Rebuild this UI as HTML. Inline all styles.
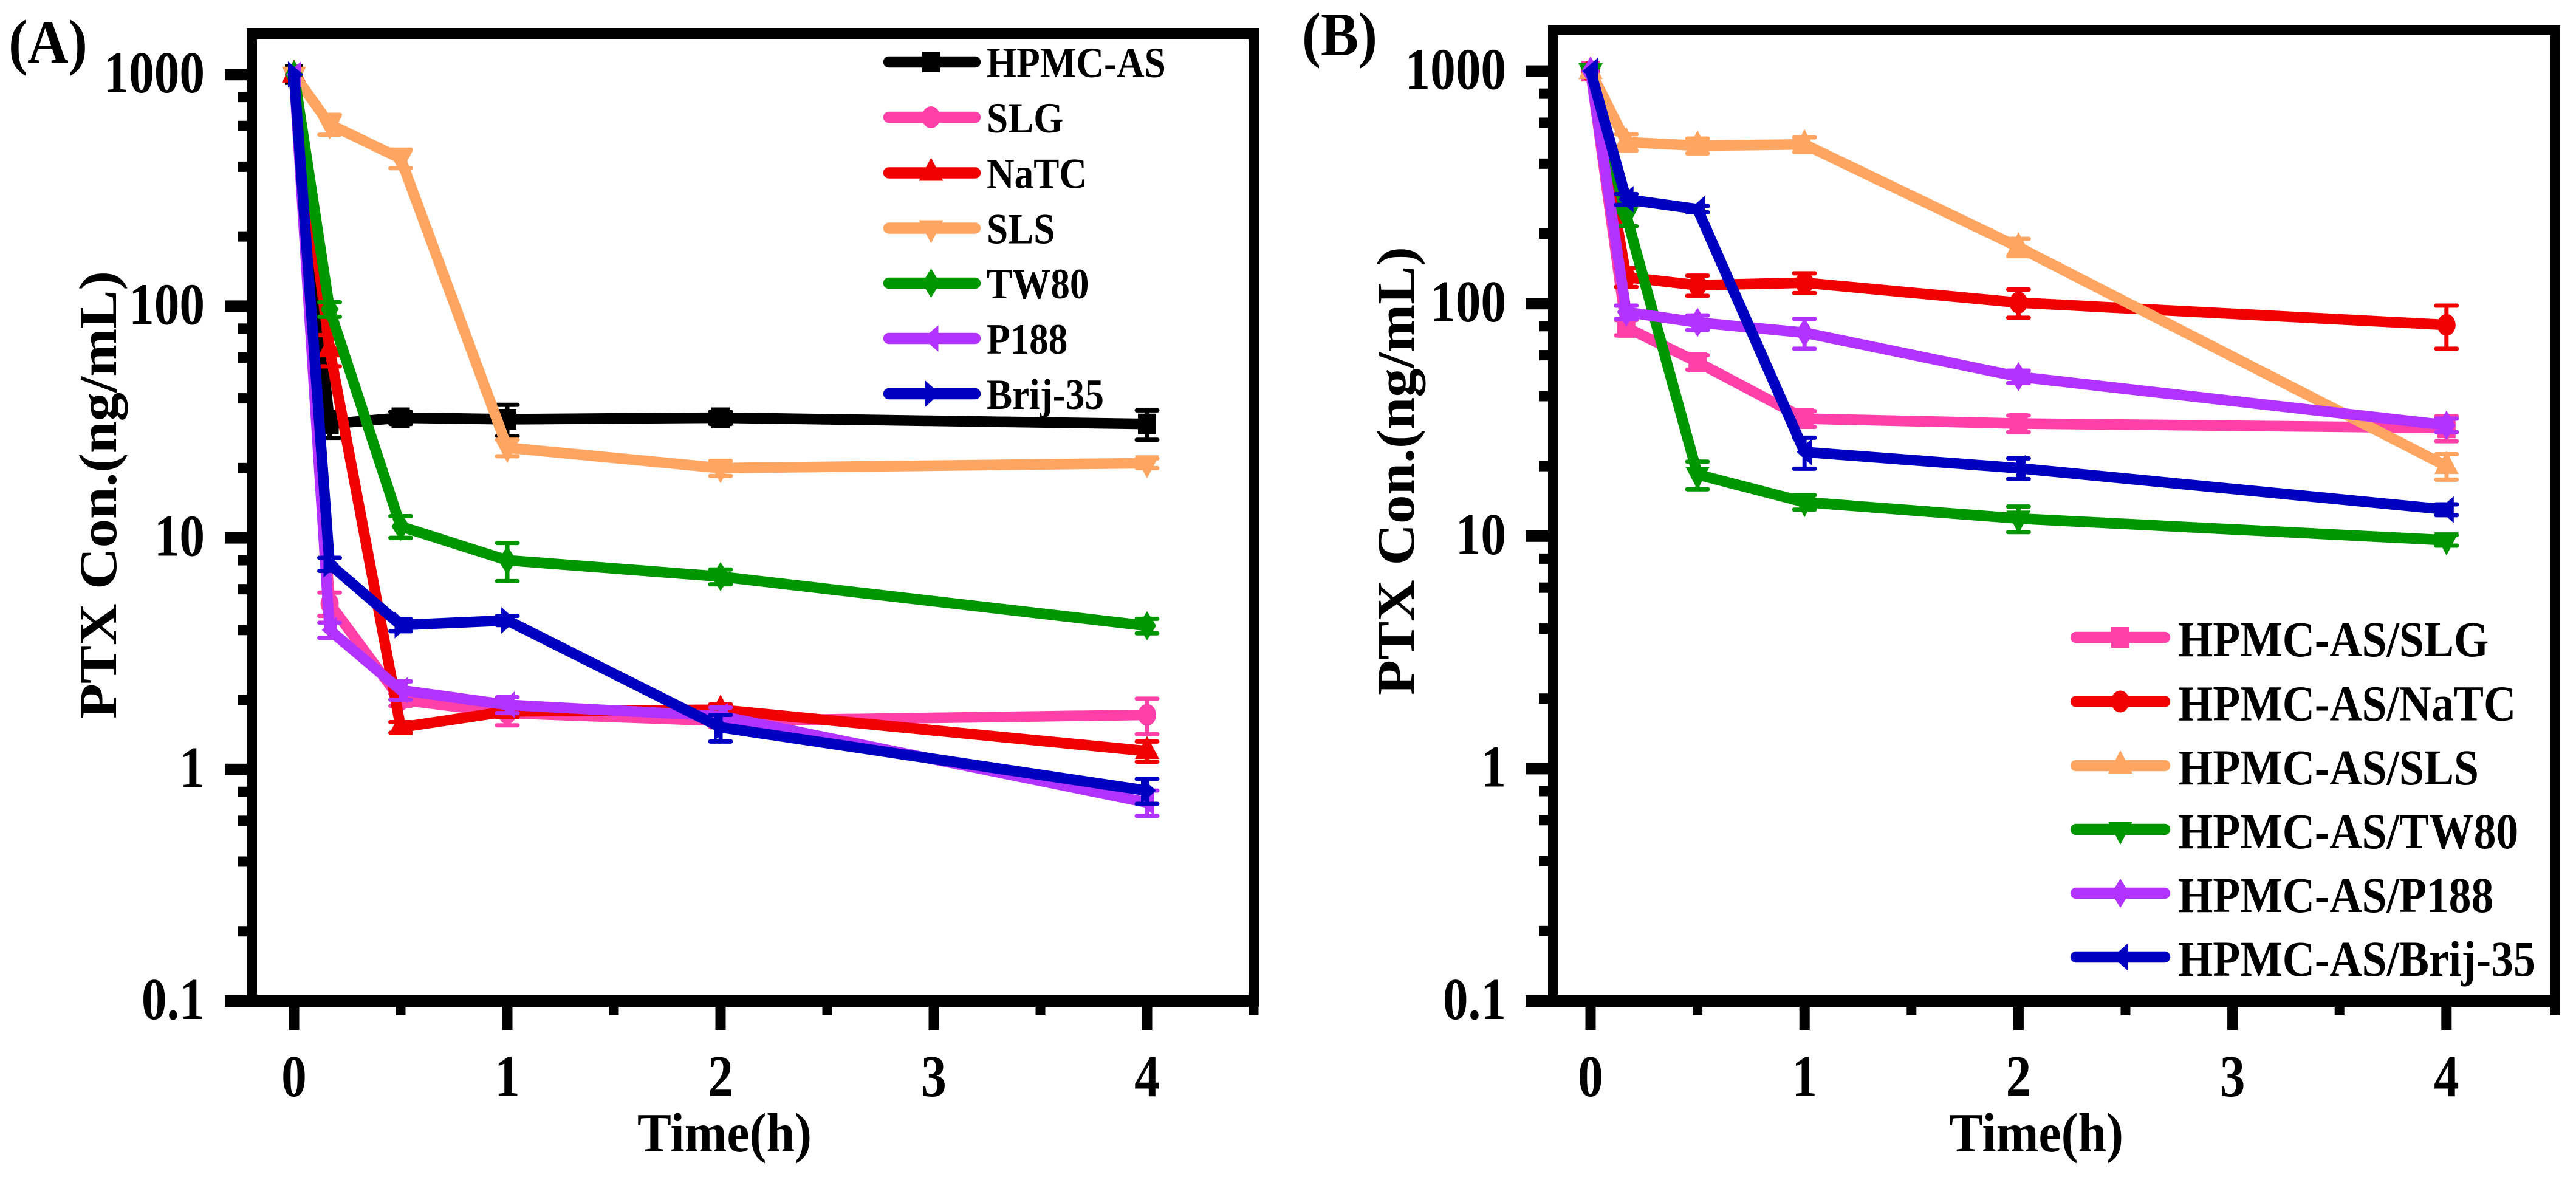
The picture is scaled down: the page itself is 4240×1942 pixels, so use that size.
<!DOCTYPE html>
<html lang="en">
<head>
<meta charset="utf-8">
<title>PTX concentration over time</title>
<style>
html,body{margin:0;padding:0;background:#fff;}
svg{display:block;}
text{font-family:"Liberation Serif",serif;fill:#000;}
</style>
</head>
<body>
<svg id="chart" xmlns="http://www.w3.org/2000/svg" width="4240" height="1942" viewBox="0 0 4240 1942"></svg>
<script>
// ---------- shared data ----------
const timePoints = [0, 0.1667, 0.5, 1, 2, 4];
const xTickLabels = ['0', '1', '2', '3', '4'];
const xMinorTicks = [0.5, 1.5, 2.5, 3.5, 4.5];
const yTickLabels = ['1000', '100', '10', '1', '0.1'];
const yMinorTicks = [800, 600, 400, 200, 80, 60, 40, 20, 8, 6, 4, 2, 0.8, 0.6, 0.4, 0.2];

// ---------- panel A data ----------
const aHpmcValues = [1000, 31, 33, 32.5, 33, 31];
const aHpmcErrors = [0, 4, 2, 5, 2, 4.5];
const aSlgValues = [1000, 5.2, 2.0, 1.75, 1.62, 1.72];
const aSlgErrors = [0, 0.6, 0.12, 0.2, 0.1, 0.3];
const aNatcValues = [1000, 65, 1.52, 1.78, 1.81, 1.2];
const aNatcErrors = [0, 10, 0.08, 0.1, 0.1, 0.12];
const aSlsValues = [1000, 610, 434, 24.5, 20, 21];
const aSlsErrors = [0, 60, 40, 2, 1.5, 1];
const aTwValues = [1000, 97, 11.2, 8.0, 6.8, 4.17];
const aTwErrors = [0, 7, 1.2, 1.5, 0.5, 0.3];
const aP188Values = [1000, 4.0, 2.2, 1.9, 1.7, 0.72];
const aP188Errors = [0, 0.3, 0.2, 0.15, 0.15, 0.09];
const aBrijValues = [1000, 7.7, 4.2, 4.4, 1.52, 0.81];
const aBrijErrors = [0, 0.5, 0.25, 0.2, 0.2, 0.1];

// ---------- panel B data ----------
const bSlgValues = [1000, 79, 56, 32, 30.5, 29.2];
const bSlgErrors = [0, 6, 4, 2.5, 2.5, 3.6];
const bNatcValues = [1000, 130, 120, 123, 101, 81];
const bNatcErrors = [0, 12, 12, 12, 14, 17];
const bSlsValues = [1000, 495, 478, 484, 175, 20];
const bSlsErrors = [0, 40, 35, 35, 15, 2.5];
const bTwValues = [1000, 240, 18.4, 14, 11.9, 9.6];
const bTwErrors = [0, 25, 2.5, 1, 1.5, 0.5];
const bP188Values = [1000, 92, 83, 75, 48.5, 30];
const bP188Errors = [0, 6, 6, 11, 3, 2];
const bBrijValues = [1000, 281, 255, 23, 19.6, 13];
const bBrijErrors = [0, 15, 8, 3.5, 2, 0.7];

// ---------- series tables (names, styles) ----------
const panelASeries = [
  {name: 'HPMC-AS', values: aHpmcValues, errors: aHpmcErrors, color: '#000000', marker: 'square'},
  {name: 'SLG', values: aSlgValues, errors: aSlgErrors, color: '#ff40a8', marker: 'circle'},
  {name: 'NaTC', values: aNatcValues, errors: aNatcErrors, color: '#f00000', marker: 'up'},
  {name: 'SLS', values: aSlsValues, errors: aSlsErrors, color: '#ffa562', marker: 'down'},
  {name: 'TW80', values: aTwValues, errors: aTwErrors, color: '#009600', marker: 'diamond'},
  {name: 'P188', values: aP188Values, errors: aP188Errors, color: '#b233ff', marker: 'left'},
  {name: 'Brij-35', values: aBrijValues, errors: aBrijErrors, color: '#0000c0', marker: 'right'}
];
const panelBSeries = [
  {name: 'HPMC-AS/SLG', values: bSlgValues, errors: bSlgErrors, color: '#ff40a8', marker: 'square'},
  {name: 'HPMC-AS/NaTC', values: bNatcValues, errors: bNatcErrors, color: '#f00000', marker: 'circle'},
  {name: 'HPMC-AS/SLS', values: bSlsValues, errors: bSlsErrors, color: '#ffa562', marker: 'up'},
  {name: 'HPMC-AS/TW80', values: bTwValues, errors: bTwErrors, color: '#009600', marker: 'down'},
  {name: 'HPMC-AS/P188', values: bP188Values, errors: bP188Errors, color: '#b233ff', marker: 'diamond'},
  {name: 'HPMC-AS/Brij-35', values: bBrijValues, errors: bBrijErrors, color: '#0000c0', marker: 'left'}
];

// ---------- layouts ----------
const layoutA = {
  key: 'a', label: '(A)', labelX: 14, labelY: 103, labelLen: 130,
  left: 406, right: 2072, vStroke: 17, top: 46, topStroke: 19, axisY: 1647, axisStroke: 20,
  x0: 484, xPerHour: 351, yBottom: 1647.5, decade: 381.2,
  majorLeft: 370, minorLeft: 392, tickTextRight: 337,
  yTitleX: 191, yTitleTop: 446, yTitleBottom: 1183, xTitleX: 1049,
  series: panelASeries,
  legendLineX1: 1463, legendLineX2: 1605, legendMarkerX: 1532.5, legendTextX: 1624,
  legendRows: [102, 193, 284.5, 375.5, 466, 557, 648], legendSize: 71, legendBaseline: 25, legendScale: 0.89
};
const layoutB = {
  key: 'b', label: '(B)', labelX: 2143, labelY: 91, labelLen: 124,
  left: 2548, right: 4214, vStroke: 16, top: 41, topStroke: 17, axisY: 1647, axisStroke: 20,
  x0: 2618, xPerHour: 352.2, yBottom: 1647.5, decade: 382.6,
  majorLeft: 2511, minorLeft: 2533, tickTextRight: 2479,
  yTitleX: 2327, yTitleTop: 406, yTitleBottom: 1144, xTitleX: 3208,
  series: panelBSeries,
  legendLineX1: 3417, legendLineX2: 3563, legendMarkerX: 3490, legendTextX: 3585,
  legendRows: [1049, 1154.5, 1260, 1365, 1470, 1575], legendSize: 83, legendBaseline: 31, legendScale: 0.887
};

const SVG_NS = 'http://www.w3.org/2000/svg';
const root = document.getElementById('chart');

function make(tag, attrs, parent) {
  const node = document.createElementNS(SVG_NS, tag);
  for (const k in attrs) node.setAttribute(k, attrs[k]);
  parent.appendChild(node);
  return node;
}
function slug(s) {
  return s.toLowerCase().replace(/[^a-z0-9]+/g, '-');
}
function xScale(p, t) {
  return p.x0 + t * p.xPerHour;
}
function yScale(p, v) {
  return p.yBottom - (Math.log10(v) + 1) * p.decade;
}
function markerPoints(kind, cx, cy) {
  let pts;
  if (kind === 'square') pts = [[-15, -17], [15, -17], [15, 17], [-15, 17]];
  if (kind === 'up') pts = [[0, -25], [20, 13], [-20, 13]];
  if (kind === 'down') pts = [[0, 25], [20, -13], [-20, -13]];
  if (kind === 'diamond') pts = [[0, -24], [15, 0], [0, 24], [-15, 0]];
  if (kind === 'left') pts = [[-13, 0], [12, -22], [12, 22]];
  if (kind === 'right') pts = [[15, 0], [-10, -22], [-10, 22]];
  return pts.map(function (q) { return (cx + q[0]) + ',' + (cy + q[1]); }).join(' ');
}
function drawMarker(kind, cx, cy, color, parent) {
  if (kind === 'circle') {
    return make('ellipse', {cx: cx, cy: cy, rx: 15, ry: 18, fill: color}, parent);
  }
  return make('polygon', {points: markerPoints(kind, cx, cy), fill: color}, parent);
}

function drawPanel(p) {
  const panel = make('g', {}, root);
  
  

  const panelLabel = make('text', {x: p.labelX, y: p.labelY, 'font-size': 102, 'font-weight': 'bold', textLength: p.labelLen, lengthAdjust: 'spacingAndGlyphs'}, panel);
  panelLabel.textContent = p.label;
  
  

  // y ticks
  const yAxis = make('g', {}, panel);
  
  
  yMinorTicks.forEach(function (v) {
    const y = yScale(p, v);
    const tick = make('rect', {x: p.minorLeft, y: y - 8.5, width: p.left - p.minorLeft + 1, height: 17, fill: '#000'}, yAxis);
    
    
  });
  yTickLabels.forEach(function (lab) {
    const y = yScale(p, Number(lab));
    const tick = make('rect', {x: p.majorLeft, y: y - 9.5, width: p.left - p.majorLeft + 1, height: 19, fill: '#000'}, yAxis);
    
    
    const txt = make('text', {transform: 'translate(' + p.tickTextRight + ',' + (y + 29.5) + ') scale(0.85,1)', 'font-size': 98, 'font-weight': 'bold', 'text-anchor': 'end'}, yAxis);
    txt.textContent = lab;
    
    
  });

  // x ticks
  const xAxis = make('g', {}, panel);
  
  
  xMinorTicks.forEach(function (t) {
    const x = t === 4.5 ? p.right - p.vStroke / 2 : xScale(p, t);
    const tick = make('rect', {x: x - 8, y: p.axisY, width: 16, height: 24, fill: '#000'}, xAxis);
    
    
  });
  xTickLabels.forEach(function (lab) {
    const x = xScale(p, Number(lab));
    const tick = make('rect', {x: x - 8.5, y: p.axisY, width: 17, height: 48, fill: '#000'}, xAxis);
    
    
    const txt = make('text', {transform: 'translate(' + x + ',1804) scale(0.85,1)', 'font-size': 98, 'font-weight': 'bold', 'text-anchor': 'middle'}, xAxis);
    txt.textContent = lab;
    
    
  });

  // frame
  const frameTop = make('rect', {x: p.left, y: p.top, width: p.right - p.left, height: p.topStroke, fill: '#000'}, panel);
  
  
  const frameLeft = make('rect', {x: p.left, y: p.top, width: p.vStroke, height: p.axisY - p.top, fill: '#000'}, panel);
  
  
  const frameRight = make('rect', {x: p.right - p.vStroke, y: p.top, width: p.vStroke, height: p.axisY - p.top, fill: '#000'}, panel);
  
  
  const frameBottom = make('rect', {x: p.left, y: p.axisY - p.axisStroke / 2, width: p.right - p.left, height: p.axisStroke, fill: '#000'}, panel);
  
  

  // titles
  const xTitle = make('text', {x: p.xTitleX, y: 1895, 'font-size': 91, 'font-weight': 'bold', textLength: 287, lengthAdjust: 'spacingAndGlyphs'}, panel);
  xTitle.textContent = 'Time(h)';
  
  
  const yTitle = make('text', {transform: 'translate(' + p.yTitleX + ',' + p.yTitleBottom + ') rotate(-90)', 'font-size': 88, 'font-weight': 'bold', textLength: p.yTitleBottom - p.yTitleTop, lengthAdjust: 'spacingAndGlyphs'}, panel);
  yTitle.textContent = 'PTX Con.(ng/mL)';
  
  

  // series
  p.series.forEach(function (s) {
    const group = make('g', {}, panel);
    
    

    s.values.forEach(function (v, i) {
      const err = s.errors[i];
      if (!err) return;
      const x = xScale(p, timePoints[i]);
      const yHi = yScale(p, v + err);
      const yLo = yScale(p, v - err);
      const bar = make('path', {d: 'M' + (x - 17) + ' ' + yHi + 'H' + (x + 17) + 'M' + (x - 17) + ' ' + yLo + 'H' + (x + 17) + 'M' + x + ' ' + yHi + 'V' + yLo, stroke: s.color, 'stroke-width': 7, fill: 'none', 'stroke-linecap': 'round'}, group);
      
      
    });

    const pts = s.values.map(function (v, i) {
      return xScale(p, timePoints[i]) + ',' + yScale(p, v);
    }).join(' ');
    const line = make('polyline', {points: pts, fill: 'none', stroke: s.color, 'stroke-width': 17.5, 'stroke-linejoin': 'round'}, group);
    
    

    s.values.forEach(function (v, i) {
      const dot = drawMarker(s.marker, xScale(p, timePoints[i]), yScale(p, v), s.color, group);
      
      
    });
  });

  // legend
  const legend = make('g', {}, panel);
  
  
  p.series.forEach(function (s, i) {
    const y = p.legendRows[i];
    const entry = make('g', {}, legend);
    
    
    const handle = make('line', {x1: p.legendLineX1, x2: p.legendLineX2, y1: y, y2: y, stroke: s.color, 'stroke-width': 18.5, 'stroke-linecap': 'round'}, entry);
    
    
    const glyph = drawMarker(s.marker, p.legendMarkerX, y, s.color, entry);
    
    
    const label = make('text', {transform: 'translate(' + p.legendTextX + ',' + (y + p.legendBaseline) + ') scale(' + p.legendScale + ',1)', 'font-size': p.legendSize, 'font-weight': 'bold'}, entry);
    label.textContent = s.name;
    
    
  });
}

drawPanel(layoutA);
drawPanel(layoutB);
</script>
</body>
</html>
